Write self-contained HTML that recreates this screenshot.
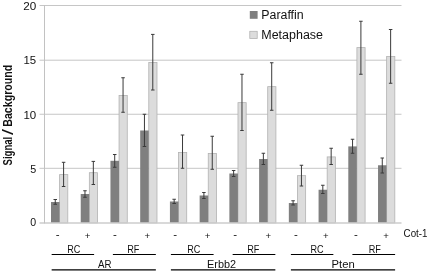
<!DOCTYPE html>
<html lang="en">
<head>
<meta charset="utf-8">
<title>Signal/Background chart</title>
<style>
html,body{margin:0;padding:0;background:#fff;}
body{width:432px;height:272px;overflow:hidden;}
svg{display:block;}
text{font-family:"Liberation Sans", sans-serif;fill:#111;}
</style>
</head>
<body>
<svg width="432" height="272" viewBox="0 0 432 272">
<rect x="0" y="0" width="432" height="272" fill="#ffffff"/>
<line x1="39.50" y1="168.30" x2="401.50" y2="168.30" stroke="#c6c6c6" stroke-width="1"/>
<line x1="39.50" y1="114.25" x2="401.50" y2="114.25" stroke="#c6c6c6" stroke-width="1"/>
<line x1="39.50" y1="60.20" x2="401.50" y2="60.20" stroke="#c6c6c6" stroke-width="1"/>
<line x1="39.50" y1="5.50" x2="401.50" y2="5.50" stroke="#c6c6c6" stroke-width="1"/>
<rect x="59.60" y="174.60" width="8.2" height="48.30" fill="#dcdcdc" stroke="#b2b2b2" stroke-width="0.8"/>
<rect x="51.00" y="202.00" width="8.55" height="20.90" fill="#7f7f7f"/>
<path d="M55.25 199.50V204.25M53.50 199.50h3.5M53.50 204.25h3.5" stroke="#3a3a3a" stroke-width="1" fill="none"/>
<path d="M63.60 162.30V186.50M61.85 162.30h3.5M61.85 186.50h3.5" stroke="#3a3a3a" stroke-width="1" fill="none"/>
<rect x="89.33" y="172.70" width="8.2" height="50.20" fill="#dcdcdc" stroke="#b2b2b2" stroke-width="0.8"/>
<rect x="80.73" y="194.00" width="8.55" height="28.90" fill="#7f7f7f"/>
<path d="M84.98 190.75V197.25M83.23 190.75h3.5M83.23 197.25h3.5" stroke="#3a3a3a" stroke-width="1" fill="none"/>
<path d="M93.33 161.40V184.50M91.58 161.40h3.5M91.58 184.50h3.5" stroke="#3a3a3a" stroke-width="1" fill="none"/>
<rect x="119.06" y="95.40" width="8.2" height="127.50" fill="#dcdcdc" stroke="#b2b2b2" stroke-width="0.8"/>
<rect x="110.46" y="160.80" width="8.55" height="62.10" fill="#7f7f7f"/>
<path d="M114.71 154.50V167.25M112.96 154.50h3.5M112.96 167.25h3.5" stroke="#3a3a3a" stroke-width="1" fill="none"/>
<path d="M123.06 77.75V112.25M121.31 77.75h3.5M121.31 112.25h3.5" stroke="#3a3a3a" stroke-width="1" fill="none"/>
<rect x="148.79" y="62.40" width="8.2" height="160.50" fill="#dcdcdc" stroke="#b2b2b2" stroke-width="0.8"/>
<rect x="140.19" y="130.50" width="8.55" height="92.40" fill="#7f7f7f"/>
<path d="M144.44 114.25V146.50M142.69 114.25h3.5M142.69 146.50h3.5" stroke="#3a3a3a" stroke-width="1" fill="none"/>
<path d="M152.79 34.40V90.00M151.04 34.40h3.5M151.04 90.00h3.5" stroke="#3a3a3a" stroke-width="1" fill="none"/>
<rect x="178.52" y="152.40" width="8.2" height="70.50" fill="#dcdcdc" stroke="#b2b2b2" stroke-width="0.8"/>
<rect x="169.92" y="201.50" width="8.55" height="21.40" fill="#7f7f7f"/>
<path d="M174.17 199.25V203.50M172.42 199.25h3.5M172.42 203.50h3.5" stroke="#3a3a3a" stroke-width="1" fill="none"/>
<path d="M182.52 135.00V168.25M180.77 135.00h3.5M180.77 168.25h3.5" stroke="#3a3a3a" stroke-width="1" fill="none"/>
<rect x="208.25" y="153.40" width="8.2" height="69.50" fill="#dcdcdc" stroke="#b2b2b2" stroke-width="0.8"/>
<rect x="199.65" y="195.50" width="8.55" height="27.40" fill="#7f7f7f"/>
<path d="M203.90 192.50V198.50M202.15 192.50h3.5M202.15 198.50h3.5" stroke="#3a3a3a" stroke-width="1" fill="none"/>
<path d="M212.25 136.25V169.25M210.50 136.25h3.5M210.50 169.25h3.5" stroke="#3a3a3a" stroke-width="1" fill="none"/>
<rect x="237.98" y="102.65" width="8.2" height="120.25" fill="#dcdcdc" stroke="#b2b2b2" stroke-width="0.8"/>
<rect x="229.38" y="173.50" width="8.55" height="49.40" fill="#7f7f7f"/>
<path d="M233.63 170.50V176.50M231.88 170.50h3.5M231.88 176.50h3.5" stroke="#3a3a3a" stroke-width="1" fill="none"/>
<path d="M241.98 74.25V130.50M240.23 74.25h3.5M240.23 130.50h3.5" stroke="#3a3a3a" stroke-width="1" fill="none"/>
<rect x="267.71" y="86.65" width="8.2" height="136.25" fill="#dcdcdc" stroke="#b2b2b2" stroke-width="0.8"/>
<rect x="259.11" y="159.00" width="8.55" height="63.90" fill="#7f7f7f"/>
<path d="M263.36 153.25V164.50M261.61 153.25h3.5M261.61 164.50h3.5" stroke="#3a3a3a" stroke-width="1" fill="none"/>
<path d="M271.71 62.75V110.25M269.96 62.75h3.5M269.96 110.25h3.5" stroke="#3a3a3a" stroke-width="1" fill="none"/>
<rect x="297.44" y="175.65" width="8.2" height="47.25" fill="#dcdcdc" stroke="#b2b2b2" stroke-width="0.8"/>
<rect x="288.84" y="203.00" width="8.55" height="19.90" fill="#7f7f7f"/>
<path d="M293.09 200.75V205.00M291.34 200.75h3.5M291.34 205.00h3.5" stroke="#3a3a3a" stroke-width="1" fill="none"/>
<path d="M301.44 165.25V186.00M299.69 165.25h3.5M299.69 186.00h3.5" stroke="#3a3a3a" stroke-width="1" fill="none"/>
<rect x="327.17" y="156.90" width="8.2" height="66.00" fill="#dcdcdc" stroke="#b2b2b2" stroke-width="0.8"/>
<rect x="318.57" y="189.75" width="8.55" height="33.15" fill="#7f7f7f"/>
<path d="M322.82 185.25V193.50M321.07 185.25h3.5M321.07 193.50h3.5" stroke="#3a3a3a" stroke-width="1" fill="none"/>
<path d="M331.17 148.25V164.50M329.42 148.25h3.5M329.42 164.50h3.5" stroke="#3a3a3a" stroke-width="1" fill="none"/>
<rect x="356.90" y="47.60" width="8.2" height="175.30" fill="#dcdcdc" stroke="#b2b2b2" stroke-width="0.8"/>
<rect x="348.30" y="146.40" width="8.55" height="76.50" fill="#7f7f7f"/>
<path d="M352.55 139.25V153.25M350.80 139.25h3.5M350.80 153.25h3.5" stroke="#3a3a3a" stroke-width="1" fill="none"/>
<path d="M360.90 21.25V74.25M359.15 21.25h3.5M359.15 74.25h3.5" stroke="#3a3a3a" stroke-width="1" fill="none"/>
<rect x="386.63" y="56.55" width="8.2" height="166.35" fill="#dcdcdc" stroke="#b2b2b2" stroke-width="0.8"/>
<rect x="378.03" y="165.25" width="8.55" height="57.65" fill="#7f7f7f"/>
<path d="M382.28 158.00V173.00M380.53 158.00h3.5M380.53 173.00h3.5" stroke="#3a3a3a" stroke-width="1" fill="none"/>
<path d="M390.63 29.50V83.25M388.88 29.50h3.5M388.88 83.25h3.5" stroke="#3a3a3a" stroke-width="1" fill="none"/>
<line x1="39.5" y1="222.90" x2="401.50" y2="222.90" stroke="#cccccc" stroke-width="1.5"/>
<line x1="44.50" y1="5.00" x2="44.50" y2="223.40" stroke="#c2c2c2" stroke-width="1"/>
<text x="23.20" y="9.80" font-size="11.70" textLength="13.00" lengthAdjust="spacingAndGlyphs">20</text>
<text x="23.50" y="63.80" font-size="11.70" textLength="12.70" lengthAdjust="spacingAndGlyphs">15</text>
<text x="23.40" y="118.70" font-size="11.70" textLength="12.80" lengthAdjust="spacingAndGlyphs">10</text>
<text x="30.20" y="172.70" font-size="11.70" textLength="6.00" lengthAdjust="spacingAndGlyphs">5</text>
<text x="30.30" y="226.30" font-size="11.70" textLength="5.90" lengthAdjust="spacingAndGlyphs">0</text>
<text transform="translate(11.7 165.4) rotate(-90)" font-size="12" font-weight="bold"><tspan x="0" textLength="28.6" lengthAdjust="spacingAndGlyphs">Signal</tspan><tspan x="30.3" dy="1.2" font-size="14" font-weight="normal" textLength="6.0" lengthAdjust="spacingAndGlyphs">/</tspan><tspan x="38.6" dy="-1.2" textLength="62.1" lengthAdjust="spacingAndGlyphs">Background</tspan></text>
<rect x="249.8" y="11" width="7.8" height="7.8" fill="#7f7f7f"/>
<rect x="249.8" y="31.3" width="7.4" height="7.2" fill="#dcdcdc" stroke="#b2b2b2" stroke-width="0.8"/>
<text x="261.30" y="18.75" font-size="12.30" textLength="42.40" lengthAdjust="spacingAndGlyphs">Paraffin</text>
<text x="261.30" y="39.00" font-size="12.30" textLength="61.70" lengthAdjust="spacingAndGlyphs">Metaphase</text>
<text x="57.60" y="237.80" font-size="11.50" text-anchor="middle">-</text>
<text x="87.50" y="238.70" font-size="9.60" text-anchor="middle">+</text>
<text x="115.00" y="237.80" font-size="11.50" text-anchor="middle">-</text>
<text x="147.40" y="238.70" font-size="9.60" text-anchor="middle">+</text>
<text x="175.25" y="237.80" font-size="11.50" text-anchor="middle">-</text>
<text x="207.50" y="238.70" font-size="9.60" text-anchor="middle">+</text>
<text x="235.25" y="237.80" font-size="11.50" text-anchor="middle">-</text>
<text x="268.25" y="238.70" font-size="9.60" text-anchor="middle">+</text>
<text x="296.00" y="237.80" font-size="11.50" text-anchor="middle">-</text>
<text x="325.75" y="238.70" font-size="9.60" text-anchor="middle">+</text>
<text x="356.00" y="237.80" font-size="11.50" text-anchor="middle">-</text>
<text x="386.10" y="238.70" font-size="9.60" text-anchor="middle">+</text>
<text x="403.60" y="237.10" font-size="11.60" textLength="23.90" lengthAdjust="spacingAndGlyphs">Cot-1</text>
<text x="67.20" y="253.00" font-size="11.30" textLength="13.10" lengthAdjust="spacingAndGlyphs">RC</text>
<line x1="51.65" y1="254.45" x2="94.10" y2="254.45" stroke="#000" stroke-width="1.15"/>
<text x="127.20" y="253.00" font-size="11.30" textLength="12.20" lengthAdjust="spacingAndGlyphs">RF</text>
<line x1="112.90" y1="254.45" x2="155.85" y2="254.45" stroke="#000" stroke-width="1.15"/>
<text x="187.20" y="253.00" font-size="11.30" textLength="13.10" lengthAdjust="spacingAndGlyphs">RC</text>
<line x1="170.90" y1="254.45" x2="213.60" y2="254.45" stroke="#000" stroke-width="1.15"/>
<text x="247.20" y="253.00" font-size="11.30" textLength="12.20" lengthAdjust="spacingAndGlyphs">RF</text>
<line x1="232.65" y1="254.45" x2="275.35" y2="254.45" stroke="#000" stroke-width="1.15"/>
<text x="310.45" y="253.00" font-size="11.30" textLength="13.10" lengthAdjust="spacingAndGlyphs">RC</text>
<line x1="290.90" y1="254.45" x2="333.35" y2="254.45" stroke="#000" stroke-width="1.15"/>
<text x="368.70" y="253.00" font-size="11.30" textLength="12.20" lengthAdjust="spacingAndGlyphs">RF</text>
<line x1="352.40" y1="254.45" x2="395.10" y2="254.45" stroke="#000" stroke-width="1.15"/>
<text x="98.00" y="268.00" font-size="11.30" textLength="13.50" lengthAdjust="spacingAndGlyphs">AR</text>
<line x1="51.65" y1="269.85" x2="155.85" y2="269.85" stroke="#000" stroke-width="1.15"/>
<text x="207.10" y="268.00" font-size="11.30" textLength="29.00" lengthAdjust="spacingAndGlyphs">Erbb2</text>
<line x1="170.90" y1="269.85" x2="275.35" y2="269.85" stroke="#000" stroke-width="1.15"/>
<text x="331.60" y="268.00" font-size="11.30" textLength="23.20" lengthAdjust="spacingAndGlyphs">Pten</text>
<line x1="290.90" y1="269.85" x2="395.10" y2="269.85" stroke="#000" stroke-width="1.15"/>
</svg>
</body>
</html>
